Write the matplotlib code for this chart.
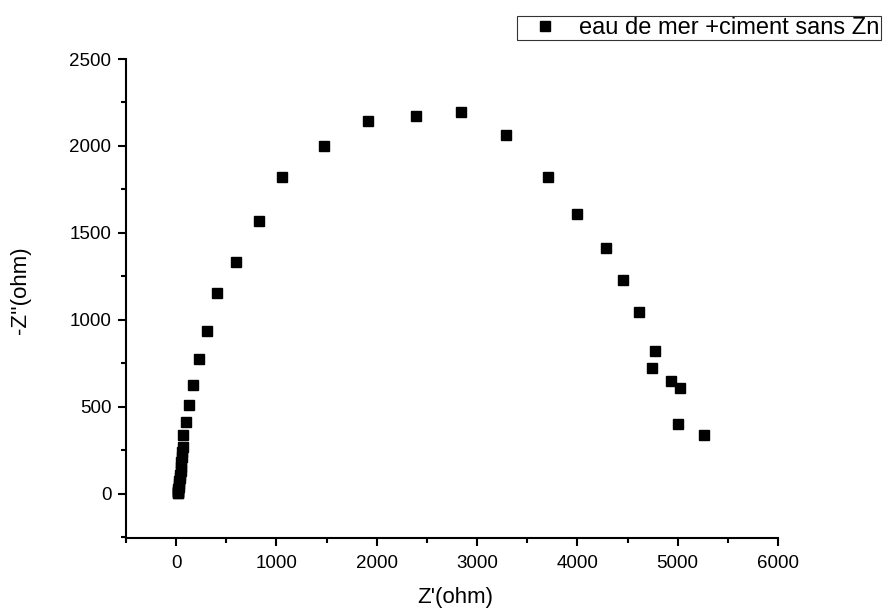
import matplotlib
matplotlib.use("Agg")
import matplotlib.pyplot as plt
from matplotlib.ticker import MultipleLocator

plt.rcParams['font.family'] = ['Liberation Sans', 'DejaVu Sans']

# Nyquist data: Z' and -Z'' (ohm)
z_real = [14, 15, 17, 19, 22, 25, 28, 32, 36, 40, 44, 48, 52, 57, 61, 65, 73,
          103, 130, 167, 229, 312, 404, 598, 823, 1055, 1473, 1911, 2395, 2840,
          3289, 3712, 4001, 4290, 4458, 4614, 4770, 4740, 4935, 5020, 5000, 5260]
z_imag = [2, 5, 10, 18, 28, 40, 55, 70, 90, 110, 130, 155, 180, 210, 240, 270, 339,
          410, 512, 625, 772, 934, 1157, 1332, 1570, 1822, 2001, 2144, 2172, 2195,
          2064, 1820, 1606, 1414, 1227, 1046, 823, 725, 648, 607, 398, 337]
label = "eau de mer +ciment sans Zn"

fig = plt.figure(figsize=(8.85, 6.14), dpi=100)
ax = fig.add_axes([126 / 885, 1 - 538 / 614, (778 - 126) / 885, (538 - 59) / 614])

ax.plot(z_real, z_imag, 's', color='black', markersize=7, linestyle='none', label=label)

ax.set_xlim(-500, 6000)
ax.set_ylim(-255, 2500)
ax.xaxis.set_major_locator(MultipleLocator(1000))
ax.xaxis.set_minor_locator(MultipleLocator(500))
ax.yaxis.set_major_locator(MultipleLocator(500))
ax.yaxis.set_minor_locator(MultipleLocator(250))

for side in ['top', 'right']:
    ax.spines[side].set_visible(False)
for side in ['left', 'bottom']:
    ax.spines[side].set_linewidth(1.5)

ax.tick_params(which='major', direction='out', length=5.5, width=1.5, labelsize=13.5, pad=5)
ax.tick_params(which='minor', direction='out', length=3.5, width=1.5)
ax.tick_params(axis='x', which='major', pad=7)

ax.set_xlabel("Z'(ohm)", fontsize=16)
ax.set_ylabel("-Z''(ohm)", fontsize=16)
ax.xaxis.set_label_coords(0.505, -0.102)
ax.yaxis.set_label_coords(-0.145, 0.518)

leg = fig.legend(loc='upper right', bbox_to_anchor=(881 / 885, 1 - 16 / 614),
                 fontsize=17, frameon=True, fancybox=False, borderpad=0.05,
                 handlelength=2.3, handletextpad=0.3, borderaxespad=0)
leg.get_frame().set_edgecolor('black')
leg.get_frame().set_linewidth(0.8)

fig.savefig("out.png", dpi=100)
